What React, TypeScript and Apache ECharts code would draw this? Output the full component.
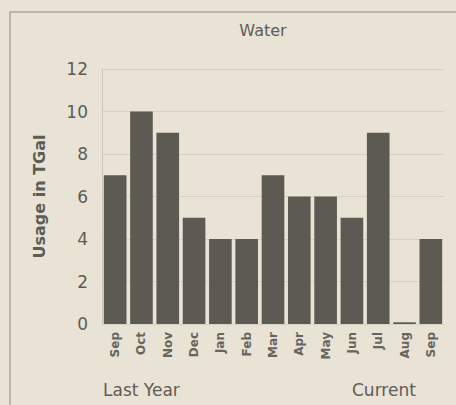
import React, { useEffect, useRef } from "react";
import * as echarts from "echarts";

const months = ["Sep", "Oct", "Nov", "Dec", "Jan", "Feb", "Mar", "Apr", "May", "Jun", "Jul", "Aug", "Sep"];
const usage = [7, 10, 9, 5, 4, 4, 7, 6, 6, 5, 9, 0.08, 4];
const yTicks = { min: 0, max: 12, interval: 2 };

export default function App() {
  const ref = useRef<HTMLDivElement>(null);
  useEffect(() => {
    const chart = echarts.init(ref.current!, null, { renderer: "svg" });
    const font = "DejaVu Sans";
    chart.setOption({
      animation: false,
      backgroundColor: "#e9e3d5",
      title: {
        text: "Water",
        left: 258,
        top: 17,
        textAlign: "center",
        textStyle: { fontFamily: font, fontSize: 16, fontWeight: "normal", color: "#5e5c56" },
      },
      graphic: [
        {
          type: "rect",
          shape: { x: 10, y: 12, width: 470, height: 420 },
          style: { fill: "none", stroke: "#a9a69e", lineWidth: 1.5 },
        },
        {
          type: "text",
          x: 103, y: 381,
          style: { text: "Last Year", fontFamily: font, fontSize: 17, fill: "#5e5c56" },
        },
        {
          type: "text",
          x: 352, y: 381,
          style: { text: "Current", fontFamily: font, fontSize: 17, fill: "#5e5c56" },
        },
      ],
      grid: { left: 102, right: 12, top: 69, bottom: 81 },
      xAxis: {
        type: "category",
        data: months,
        axisLine: { show: false },
        axisTick: { show: false },
        axisLabel: {
          rotate: 90,
          interval: 0,
          margin: 8,
          fontFamily: font,
          fontSize: 12,
          fontWeight: "bold",
          color: "#67655e",
        },
      },
      yAxis: {
        type: "value",
        min: yTicks.min,
        max: yTicks.max,
        interval: yTicks.interval,
        name: "Usage in TGal",
        nameLocation: "middle",
        nameGap: 55,
        nameRotate: 90,
        nameTextStyle: { fontFamily: font, fontSize: 16, fontWeight: "bold", color: "#5e5c56" },
        axisLine: { show: true, lineStyle: { color: "#c9c5bb" } },
        axisTick: { show: false },
        axisLabel: { fontFamily: font, fontSize: 17, color: "#5e5c56", margin: 14 },
        splitLine: { show: true, lineStyle: { color: "#d6d1c5" } },
      },
      series: [
        {
          type: "bar",
          data: usage,
          barCategoryGap: "14%",
          itemStyle: { color: "#5c5a52" },
        },
      ],
    });
    return () => chart.dispose();
  }, []);
  return <div ref={ref} style={{ width: 456, height: 405, position: "absolute", left: 0, top: 0 }} />;
}
